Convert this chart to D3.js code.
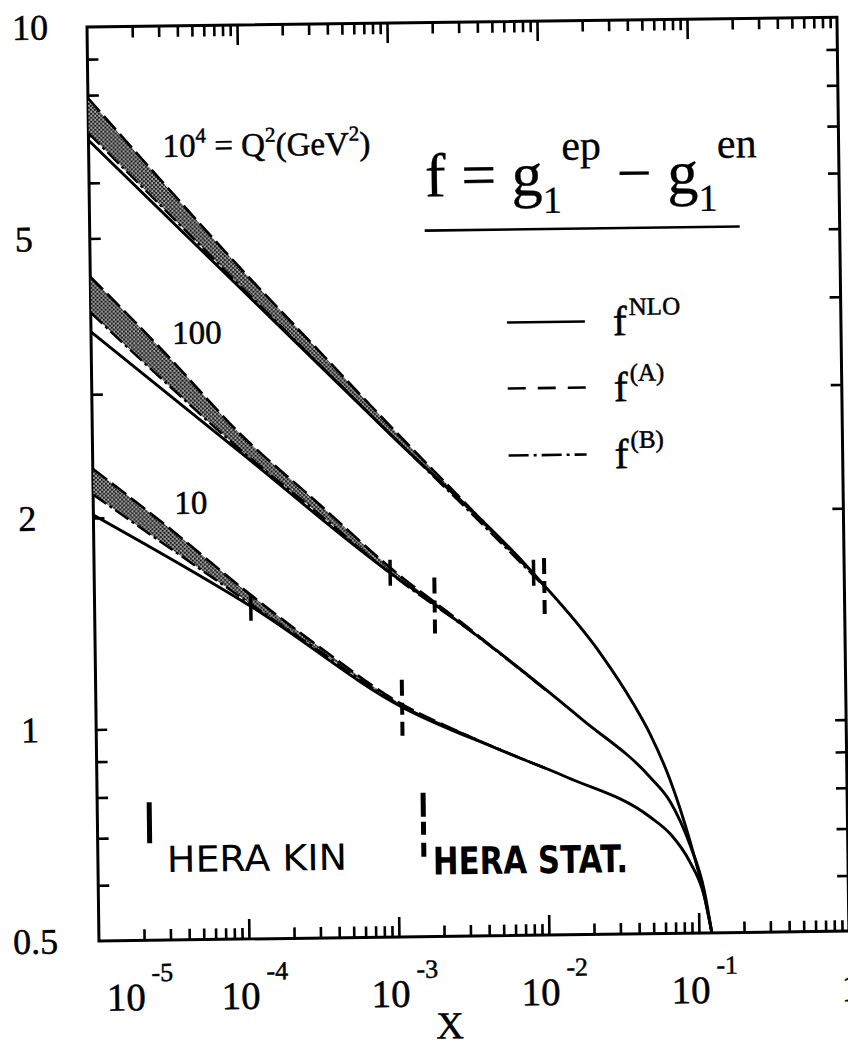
<!DOCTYPE html>
<html>
<head>
<meta charset="utf-8">
<script src="https://cdn.jsdelivr.net/npm/d3@7"></script>
<style>
  body { margin: 0; background: #fff; }
  text { fill: #000; }
</style>
</head>
<body>
<svg id="chart" width="848" height="1050"></svg>
<script>
// ---- data -----------------------------------------------------------
// f^NLO (solid) for Q^2 = 10^4, 100, 10 GeV^2
const nloX_1e4 = [1e-5, 1e-4, 1e-3, 8.4e-3, 0.0233, 0.038, 0.0493, 0.0661, 0.0885, 0.1096, 0.122];
const nloF_1e4 = [6.90, 4.22, 2.58, 1.64, 1.256, 1.066, 0.961, 0.828, 0.678, 0.564, 0.5];
const nloX_100 = [1e-5, 1e-4, 9.4e-4, 1.81e-3, 5e-3, 0.0176, 0.0488, 0.0661, 0.0885, 0.1096, 0.122];
const nloF_100 = [3.68, 2.45, 1.65, 1.49, 1.262, 1.01, 0.835, 0.770, 0.669, 0.574, 0.5];
const nloX_10 = [1e-5, 1.14e-4, 1.1e-3, 4.9e-3, 0.0136, 0.0484, 0.0661, 0.0885, 0.1096, 0.122];
const nloF_10 = [2.02, 1.48, 1.062, 0.919, 0.838, 0.733, 0.692, 0.631, 0.563, 0.5];

// f^(A) (dashed) and f^(B) (dash-dot) in the small-x region
const abX = [1e-5, 3e-5, 1e-4, 3e-4, 1e-3, 3e-3, 1e-2];
const fA_1e4 = [7.92, 6.04, 4.51, 3.50, 2.65, 2.07, 1.57];
const fB_1e4 = [7.06, 5.55, 4.25, 3.35, 2.58, 2.04, 1.567];
const fA_100 = [4.41, 3.45, 2.60, 2.10, 1.66, 1.38, 1.116];
const fB_100 = [3.92, 3.13, 2.47, 2.03, 1.63, 1.372, 1.116];
const fA_10 = [2.35, 1.95, 1.57, 1.307, 1.085, 0.964, 0.862];
const fB_10 = [2.16, 1.825, 1.52, 1.288, 1.078, 0.964, 0.862];

// HERA kinematic limit (solid bar) and statistics limit (broken bar), per Q^2
const kinX = [8.5e-3, 9.4e-4, 1.1e-4];
const kinF = [1.64, 1.65, 1.48];
const statX = [1.0e-2, 1.85e-3, 1.1e-3];
const statF = [1.57, 1.48, 1.06];

// axis tick labels
const yTickVals = [10, 5, 2, 1, 0.5];
const yTickText = ["10", "5", "2", "1", "0.5"];
const xTickExp = [-5, -4, -3, -2, -1];

// ---- layout ---------------------------------------------------------
const SERIF = "Liberation Serif, Times New Roman, serif";
const W = 750, H = 914;
const svg = d3.select("#chart");
const root = svg.append("g").attr("transform", "translate(87,27) rotate(-0.75)");

const x = d3.scaleLog().domain([1e-5, 1]).range([0, W]);
const y = d3.scaleLog().domain([0.5, 10]).range([H, 0]);

const defs = svg.append("defs");
defs.append("clipPath").attr("id", "plotClip")
  .append("rect").attr("x", 0).attr("y", 0).attr("width", W).attr("height", H);
const pat = defs.append("pattern").attr("id", "stipple")
  .attr("width", 4).attr("height", 4).attr("patternUnits", "userSpaceOnUse");
pat.append("rect").attr("width", 4).attr("height", 4).attr("fill", "#8e8e8e");
pat.append("rect").attr("x", 0).attr("y", 0).attr("width", 1.8).attr("height", 1.8).attr("fill", "#111");
pat.append("rect").attr("x", 2).attr("y", 2).attr("width", 1.8).attr("height", 1.8).attr("fill", "#111");
pat.append("rect").attr("x", 3).attr("y", 0.5).attr("width", 0.8).attr("height", 0.8).attr("fill", "#eee");

function txt(parent, size) {
  return parent.append("text").attr("font-family", SERIF).attr("font-size", size)
    .attr("stroke", "#000").attr("stroke-width", 0.5);
}

// ---- ticks ----------------------------------------------------------
const decades = d3.range(-5, 1).map(e => Math.pow(10, e));
const xMinor = [];
decades.slice(0, 5).forEach(d => { for (let k = 2; k <= 9; k++) xMinor.push(d * k); });
const yMinor = [0.6, 0.7, 0.8, 0.9, 1, 2, 3, 4, 5, 6, 7, 8, 9];

function tickGroup(axis, transform) {
  const t = root.append("g").attr("transform", transform).call(axis);
  t.select(".domain").remove();
  t.selectAll("line").attr("stroke", "#000").attr("stroke-width", 2.6);
  t.selectAll("text").remove();
  return t;
}
tickGroup(d3.axisBottom(x).tickValues(xMinor).tickSize(-11).tickFormat(""), `translate(0,${H})`);
tickGroup(d3.axisBottom(x).tickValues(decades.slice(1, 5)).tickSize(-20).tickFormat(""), `translate(0,${H})`);
tickGroup(d3.axisTop(x).tickValues(xMinor).tickSize(-11).tickFormat(""), "translate(0,0)");
tickGroup(d3.axisTop(x).tickValues(decades.slice(1, 5)).tickSize(-20).tickFormat(""), "translate(0,0)");
tickGroup(d3.axisLeft(y).tickValues(yMinor).tickSize(-11).tickFormat(""), "translate(0,0)");
tickGroup(d3.axisRight(y).tickValues(yMinor).tickSize(-11).tickFormat(""), `translate(${W},0)`);

// frame
root.append("rect").attr("x", 0).attr("y", 0).attr("width", W).attr("height", H)
  .attr("fill", "none").attr("stroke", "#000").attr("stroke-width", 3);

// ---- tick labels ----------------------------------------------------
yTickVals.forEach((d, i) => {
  txt(root, 36).attr("x", i === 4 ? -86 : -75).attr("y", y(d) + 12).text(yTickText[i]);
});

xTickExp.forEach((d, i) => {
  const t = txt(root, 39).attr("x", i === 0 ? 7 : x(Math.pow(10, d)) - 28).attr("y", H + 70);
  t.append("tspan").text("10");
  t.append("tspan").attr("dx", 6).attr("dy", -29).attr("font-size", 26).text("-" + Math.abs(d));
});
txt(root, 39).attr("x", x(1) - 8).attr("y", H + 70).text("1");

txt(root, 38).attr("x", 350).attr("y", H + 102).attr("text-anchor", "middle").text("X");

// ---- curves ---------------------------------------------------------
const plot = root.append("g").attr("clip-path", "url(#plotClip)");
const line = d3.line().x(d => x(d[0])).y(d => y(d[1])).curve(d3.curveMonotoneX);
const band = d3.area().x(d => x(d[0])).y0(d => y(d[2])).y1(d => y(d[1])).curve(d3.curveMonotoneX);

const families = [
  { nx: nloX_1e4, nf: nloF_1e4, a: fA_1e4, b: fB_1e4 },
  { nx: nloX_100, nf: nloF_100, a: fA_100, b: fB_100 },
  { nx: nloX_10, nf: nloF_10, a: fA_10, b: fB_10 }
];

families.forEach(fam => {
  const abPts = abX.map((v, i) => [v, fam.a[i], fam.b[i]]);
  plot.append("path").attr("d", band(abPts)).attr("fill", "url(#stipple)").attr("stroke", "none");
  plot.append("path").attr("d", line(abX.map((v, i) => [v, fam.a[i]])))
    .attr("fill", "none").attr("stroke", "#000").attr("stroke-width", 2.6).attr("stroke-dasharray", "18,6");
  plot.append("path").attr("d", line(abX.map((v, i) => [v, fam.b[i]])))
    .attr("fill", "none").attr("stroke", "#000").attr("stroke-width", 2.4).attr("stroke-dasharray", "16,4,3,4");
  plot.append("path").attr("d", line(fam.nx.map((v, i) => [v, fam.nf[i]])))
    .attr("fill", "none").attr("stroke", "#000").attr("stroke-width", 2.9);
});

// HERA markers on the curves
kinX.forEach((v, i) => {
  plot.append("line").attr("x1", x(v)).attr("x2", x(v))
    .attr("y1", y(kinF[i]) - 13).attr("y2", y(kinF[i]) + 13)
    .attr("stroke", "#000").attr("stroke-width", 3.5);
});
statX.forEach((v, i) => {
  plot.append("line").attr("x1", x(v)).attr("x2", x(v))
    .attr("y1", y(statF[i]) - 28).attr("y2", y(statF[i]) + 28)
    .attr("stroke", "#000").attr("stroke-width", 4).attr("stroke-dasharray", "16,7,12,7,14");
});

// ---- labels inside the frame -----------------------------------------
const q2 = txt(root, 33).attr("x", 74).attr("y", 131);
q2.append("tspan").text("10");
q2.append("tspan").attr("dy", -14).attr("font-size", 21).text("4");
q2.append("tspan").attr("dy", 14).text(" = Q");
q2.append("tspan").attr("dy", -14).attr("font-size", 21).text("2");
q2.append("tspan").attr("dy", 14).text("(GeV");
q2.append("tspan").attr("dy", -14).attr("font-size", 21).text("2");
q2.append("tspan").attr("dy", 14).text(")");

txt(root, 33).attr("x", 81).attr("y", 318).text("100");
txt(root, 33).attr("x", 81).attr("y", 488).text("10");

// title f = g1^ep - g1^en with underline
const title = txt(root, 62).attr("x", 336).attr("y", 174).attr("stroke-width", 0.3);
title.append("tspan").text("f = g");
title.append("tspan").attr("dy", 18).attr("font-size", 38).text("1");
title.append("tspan").attr("dy", -53).attr("font-size", 42).text("ep");
title.append("tspan").attr("dy", 35).text(" \u2212 g");
title.append("tspan").attr("dy", 18).attr("font-size", 38).text("1");
title.append("tspan").attr("dy", -53).attr("font-size", 42).text("en");
root.append("line").attr("x1", 335).attr("x2", 650).attr("y1", 208).attr("y2", 208)
  .attr("stroke", "#000").attr("stroke-width", 2.6);

// legend
const legendRows = [
  { v: 301, dash: null, sup: "NLO" },
  { v: 367, dash: "18,12", sup: "(A)" },
  { v: 434, dash: "20,5,3,5", sup: "(B)" }
];
legendRows.forEach(r => {
  const l = root.append("line").attr("x1", 416).attr("x2", 494).attr("y1", r.v).attr("y2", r.v)
    .attr("stroke", "#000").attr("stroke-width", 2.6);
  if (r.dash) l.attr("stroke-dasharray", r.dash);
  const t = txt(root, 42).attr("x", 522).attr("y", r.v + 14);
  t.append("tspan").text("f");
  t.append("tspan").attr("dx", 2).attr("dy", -20).attr("font-size", 25).text(r.sup);
});

// HERA legend (hand-lettered in the original)
root.append("line").attr("x1", 52).attr("x2", 52).attr("y1", 776).attr("y2", 817)
  .attr("stroke", "#000").attr("stroke-width", 5);
root.append("line").attr("x1", 326).attr("x2", 326).attr("y1", 770).attr("y2", 834)
  .attr("stroke", "#000").attr("stroke-width", 5).attr("stroke-dasharray", "24,5,13,8,14");
root.append("text").attr("font-family", "DejaVu Sans, sans-serif").attr("x", 69).attr("y", 846)
  .attr("font-size", 36).attr("textLength", 180).attr("lengthAdjust", "spacingAndGlyphs").text("HERA  KIN");
root.append("text").attr("font-family", "DejaVu Sans, sans-serif").attr("x", 335).attr("y", 852)
  .attr("font-size", 38).attr("font-weight", "bold")
  .attr("textLength", 195).attr("lengthAdjust", "spacingAndGlyphs").text("HERA  STAT.");
</script>
</body>
</html>
